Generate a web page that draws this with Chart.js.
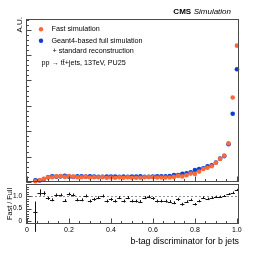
<!DOCTYPE html>
<html>
<head>
<meta charset="utf-8">
<script src="https://cdn.jsdelivr.net/npm/chart.js@4.4.1/dist/chart.umd.min.js"></script>
<style>
html, body { margin: 0; padding: 0; background: #fff; }
#wrap { position: relative; width: 266px; height: 263px; }
#wrap canvas { position: absolute; left: 0; top: 0; }
</style>
</head>
<body>
<div id="wrap">
  <canvas id="mainChart" width="266" height="263"></canvas>
  <canvas id="ratioChart" width="266" height="263"></canvas>
</div>
<script>
// bin centres of the b-tag discriminator
const binCenters = [0.04, 0.06, 0.08, 0.10, 0.12, 0.14, 0.16, 0.18, 0.20, 0.22,
    0.24, 0.26, 0.28, 0.30, 0.32, 0.34, 0.36, 0.38, 0.40, 0.42,
    0.44, 0.46, 0.48, 0.50, 0.52, 0.54, 0.56, 0.58, 0.60, 0.62,
    0.64, 0.66, 0.68, 0.70, 0.72, 0.74, 0.76, 0.78, 0.80, 0.82,
    0.84, 0.86, 0.88, 0.90, 0.92, 0.94, 0.96, 0.98, 1.00];

// Fast simulation (A.U.)
const fastSim = [0.03, 0.07, 0.13, 0.18, 0.19, 0.22, 0.23, 0.20, 0.23, 0.21,
    0.19, 0.19, 0.21, 0.18, 0.19, 0.19, 0.20, 0.17, 0.18, 0.17,
    0.19, 0.17, 0.19, 0.17, 0.17, 0.17, 0.19, 0.20, 0.19, 0.18,
    0.18, 0.18, 0.18, 0.20, 0.24, 0.22, 0.27, 0.33, 0.32, 0.41,
    0.51, 0.56, 0.62, 0.76, 0.91, 1.04, 1.52, 3.33, 5.37];

// Geant4-based full simulation
const fullSim = [0.07, 0.06, 0.12, 0.19, 0.22, 0.21, 0.22, 0.24, 0.21, 0.20,
    0.22, 0.22, 0.21, 0.22, 0.21, 0.20, 0.20, 0.21, 0.21, 0.21,
    0.20, 0.21, 0.20, 0.21, 0.21, 0.22, 0.20, 0.20, 0.21, 0.22,
    0.22, 0.22, 0.23, 0.27, 0.27, 0.32, 0.34, 0.38, 0.47, 0.51,
    0.54, 0.62, 0.66, 0.77, 0.92, 1.02, 1.49, 2.69, 4.44];

// Fast / Full ratio and its errors
const ratioVals = [0.37, 1.16, 1.13, 0.92, 0.86, 1.06, 1.06, 0.83, 1.10, 1.06,
    0.86, 0.86, 1.02, 0.81, 0.88, 0.95, 1.02, 0.81, 0.88, 0.81,
    0.95, 0.81, 0.95, 0.81, 0.81, 0.79, 0.95, 0.99, 0.92, 0.81,
    0.81, 0.81, 0.79, 0.74, 0.88, 0.68, 0.79, 0.86, 0.68, 0.81,
    0.95, 0.90, 0.95, 0.99, 0.99, 1.02, 1.10, 1.16, 1.27];
const ratioErrUp = [0.42, 0.13, 0.08, 0.06, 0.06, 0.06, 0.06, 0.06, 0.06, 0.06,
    0.06, 0.06, 0.06, 0.06, 0.06, 0.06, 0.06, 0.06, 0.06, 0.06,
    0.06, 0.06, 0.06, 0.06, 0.06, 0.06, 0.06, 0.06, 0.06, 0.06,
    0.06, 0.06, 0.06, 0.06, 0.06, 0.06, 0.05, 0.05, 0.05, 0.05,
    0.05, 0.05, 0.04, 0.04, 0.04, 0.04, 0.04, 0.04, 0.04];
const ratioErrDown = [0.82, 0.13, 0.08, 0.06, 0.06, 0.06, 0.06, 0.06, 0.06, 0.06,
    0.06, 0.06, 0.06, 0.06, 0.06, 0.06, 0.06, 0.06, 0.06, 0.06,
    0.06, 0.06, 0.06, 0.06, 0.06, 0.06, 0.06, 0.06, 0.06, 0.06,
    0.06, 0.06, 0.06, 0.06, 0.06, 0.06, 0.05, 0.05, 0.05, 0.05,
    0.05, 0.05, 0.04, 0.04, 0.04, 0.04, 0.04, 0.04, 0.04];
const halfBin = 0.01;

const xTickLabels = [0, 0.2, 0.4, 0.6, 0.8, 1];
const ratioTickLabels = [0, 0.5, 1];

const seriesNames = ['Fast simulation', 'Geant4-based full simulation'];
const extraLegendLine = '+ standard reconstruction';
const processLabel = 'pp \u2192 tt\u0304+jets, 13TeV, PU25';
const xTitle = 'b-tag discriminator for b jets';

const ORANGE = '#fa6a38';
const BLUE = '#0b3ed4';
const FRAME = '#4a4a4a';
const FONT = '"Liberation Sans", Arial, Helvetica, sans-serif';

function pts(ys) { return binCenters.map((x, i) => ({ x: x, y: ys[i] })); }

function stepList(from, to, step) {
    const out = [];
    for (let v = from; v <= to + 1e-9; v += step) out.push(Math.round(v * 1000) / 1000);
    return out;
}

// frame + inward ticks (ROOT style)
function drawFrame(chart, yMajor, yMinor, yMajLen, yMinLen) {
    const { ctx, chartArea: a, scales } = chart;
    ctx.save();
    ctx.strokeStyle = FRAME;
    ctx.lineWidth = 1;
    const l = Math.round(a.left) - 0.5, r = Math.round(a.right) - 0.5;
    const t = Math.round(a.top) + 0.5, b = Math.round(a.bottom) - 0.5;
    ctx.strokeRect(l, t, r - l, b - t);
    ctx.beginPath();
    stepList(0, 1, 0.05).forEach(v => {
        const x = Math.round(scales.x.getPixelForValue(v)) + 0.5;
        const len = Math.abs(v * 5 - Math.round(v * 5)) < 1e-6 ? 5 : 2.5;
        ctx.moveTo(x, b); ctx.lineTo(x, b - len);
    });
    yMajor.forEach(v => {
        const y = Math.round(scales.y.getPixelForValue(v)) + 0.5;
        ctx.moveTo(l, y); ctx.lineTo(l + yMajLen, y);
    });
    yMinor.forEach(v => {
        const y = Math.round(scales.y.getPixelForValue(v)) + 0.5;
        ctx.moveTo(l, y); ctx.lineTo(l + yMinLen, y);
    });
    ctx.stroke();
    ctx.restore();
}

const mainDecor = {
    id: 'mainDecor',
    afterDraw(chart) {
        drawFrame(chart, stepList(0, 6, 1), stepList(0, 6.4, 0.2), 5, 2.5);
        const ctx = chart.ctx;
        ctx.save();
        ctx.fillStyle = '#000';
        ctx.textBaseline = 'middle';
        // CMS Simulation
        ctx.textAlign = 'right';
        ctx.font = 'italic 8px ' + FONT;
        ctx.fillText('Simulation', 231, 12);
        const w = ctx.measureText('Simulation').width;
        ctx.font = 'bold 8px ' + FONT;
        ctx.fillText('CMS', 231 - w - 2.5, 12);
        // legend
        ctx.textAlign = 'left';
        ctx.font = '7.2px ' + FONT;
        ctx.fillStyle = ORANGE;
        ctx.beginPath(); ctx.arc(41, 29.3, 2.2, 0, Math.PI * 2); ctx.fill();
        ctx.fillStyle = BLUE;
        ctx.beginPath(); ctx.arc(41, 40.7, 2.2, 0, Math.PI * 2); ctx.fill();
        ctx.fillStyle = '#000';
        ctx.fillText(seriesNames[0], 51.5, 29.3);
        ctx.fillText(seriesNames[1], 51.5, 40.7);
        ctx.fillText(extraLegendLine, 52.5, 51.5);
        ctx.fillText(processLabel, 41.5, 63.3);
        // y title
        ctx.translate(19.5, 17);
        ctx.rotate(-Math.PI / 2);
        ctx.textAlign = 'right';
        ctx.font = '8px ' + FONT;
        ctx.fillText('A.U.', 0, 0);
        ctx.restore();
    }
};

const ratioDecor = {
    id: 'ratioDecor',
    afterDatasetsDraw(chart) {
        const { ctx, scales } = chart;
        const meta = chart.getDatasetMeta(1);
        ctx.save();
        ctx.strokeStyle = '#111';
        ctx.lineWidth = 1;
        ctx.beginPath();
        meta.data.forEach((el, i) => {
            const x = binCenters[i], y = ratioVals[i];
            const x0 = scales.x.getPixelForValue(x - halfBin), x1 = scales.x.getPixelForValue(x + halfBin);
            const yUp = scales.y.getPixelForValue(y + ratioErrUp[i]);
            const yDn = scales.y.getPixelForValue(y - ratioErrDown[i]);
            ctx.moveTo(x0, Math.round(el.y) + 0.5); ctx.lineTo(x1, Math.round(el.y) + 0.5);
            ctx.moveTo(Math.round(el.x) + 0.5, yUp); ctx.lineTo(Math.round(el.x) + 0.5, yDn);
        });
        ctx.stroke();
        ctx.restore();
    },
    afterDraw(chart) {
        drawFrame(chart, ratioTickLabels, stepList(-0.1, 1.5, 0.1), 5, 2.5);
        const ctx = chart.ctx;
        ctx.save();
        ctx.fillStyle = '#000';
        ctx.textBaseline = 'middle';
        ctx.textAlign = 'right';
        ctx.font = '8.8px ' + FONT;
        ctx.fillText(xTitle, 239, 242);
        ctx.translate(9.5, 204);
        ctx.rotate(-Math.PI / 2);
        ctx.textAlign = 'center';
        ctx.font = '7.3px ' + FONT;
        ctx.fillText('Fast / Full', 0, 0);
        ctx.restore();
    }
};

new Chart(document.getElementById('mainChart'), {
    type: 'scatter',
    data: {
        datasets: [
            { label: seriesNames[0], data: pts(fastSim), backgroundColor: ORANGE, pointRadius: 2.3, pointBorderWidth: 0, clip: false },
            { label: seriesNames[1], data: pts(fullSim), backgroundColor: BLUE, pointRadius: 2.3, pointBorderWidth: 0, clip: false }
        ]
    },
    options: {
        responsive: false,
        animation: false,
        devicePixelRatio: 1,
        layout: { padding: { left: 27, right: 27, top: 19, bottom: 81 } },
        plugins: { legend: { display: false }, tooltip: { enabled: false } },
        scales: {
            x: { type: 'linear', min: 0, max: 1.01, display: false },
            y: { type: 'linear', min: 0, max: 6.42, display: false }
        }
    },
    plugins: [mainDecor]
});

new Chart(document.getElementById('ratioChart'), {
    type: 'scatter',
    data: {
        datasets: [
            { type: 'line', data: [{ x: 0, y: 1 }, { x: 1.01, y: 1 }], borderColor: '#777', borderWidth: 0.8, borderDash: [2, 2], pointRadius: 0 },
            { label: 'Fast / Full', data: pts(ratioVals), pointRadius: 0, clip: false }
        ]
    },
    options: {
        responsive: false,
        animation: false,
        devicePixelRatio: 1,
        layout: { padding: { left: 0, right: 27, top: 184, bottom: 0 } },
        plugins: { legend: { display: false }, tooltip: { enabled: false } },
        scales: {
            x: {
                type: 'linear', min: 0, max: 1.01,
                afterBuildTicks: s => { s.ticks = xTickLabels.map(v => ({ value: v })); },
                afterFit: s => { s.height = 39; },
                grid: { display: false, drawTicks: false },
                border: { display: false },
                ticks: { padding: 2, maxRotation: 0, color: '#000', font: { family: FONT, size: 7 } }
            },
            y: {
                type: 'linear', min: -0.13, max: 1.51,
                afterBuildTicks: s => { s.ticks = ratioTickLabels.map(v => ({ value: v })); },
                afterFit: s => { s.width = 27; },
                grid: { display: false, drawTicks: false },
                border: { display: false },
                ticks: { padding: 5, color: '#000', font: { family: FONT, size: 6.5 } }
            }
        }
    },
    plugins: [ratioDecor]
});
</script>
</body>
</html>
